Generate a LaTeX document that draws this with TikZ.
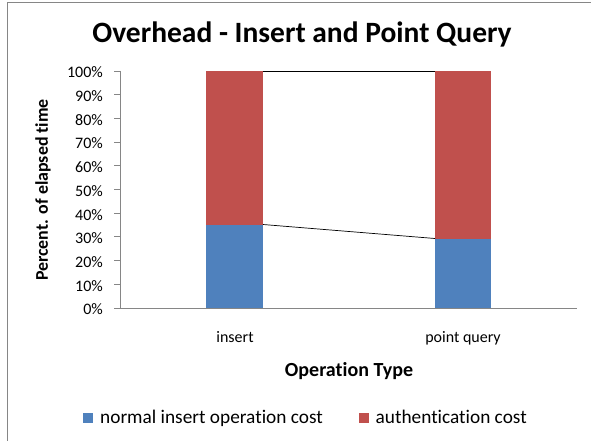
\documentclass[tikz,border=0pt]{standalone}
\usepackage{fontspec}
\setmainfont[Ligatures=CommonOff]{Carlito}
\definecolor{barblue}{HTML}{4F81BD}
\definecolor{barred}{HTML}{C0504D}
\definecolor{axisgray}{HTML}{868686}
\begin{document}
\begin{tikzpicture}[x=1pt,y=-1pt,
  ticklab/.style={anchor=east,font=\fontsize{16}{18}\selectfont,inner sep=0pt},
  catlab/.style={anchor=base,font=\fontsize{16}{18}\selectfont,inner sep=0pt},
  leglab/.style={anchor=base west,inner sep=0pt,font=\fontsize{19.3}{21}\selectfont},
  axisline/.style={draw=axisgray,line width=0.9pt},
  bluebar/.style={fill=barblue,draw=none},
  redbar/.style={fill=barred,draw=none},
  series/.style={draw=black,line width=0.7pt}]
\useasboundingbox (0,0) rectangle (591,441);
\fill[white] (0,0) rectangle (591,441);
% frame
\draw[axisgray,line width=0.8pt] (7,460) -- (7,2) -- (610,2);
% title
\node[anchor=base,inner sep=0pt,font=\bfseries\fontsize{29.5}{32}\selectfont] (title) at (302,43) {Overhead - Insert and Point Query};
% bars
\path[bluebar] (206,308) rectangle (263,224.5);
\path[redbar] (206,224.5) rectangle (263,71);
\path[bluebar] (435,308) rectangle (491,238.5);
\path[redbar] (435,238.5) rectangle (491,71);
\coordinate (i1) at (263,224.5);
\coordinate (q1) at (435,238.5);
\coordinate (i2) at (263,71);
\coordinate (q2) at (435,71);
\draw[series] (i1) -- (q1);
\draw[series] (i2) -- (q2);
% axes
\draw[axisline] (120,71) -- (120,308) -- (577,308);
\foreach \v [count=\k from 0] in {0,10,...,100} {
  \pgfmathsetmacro{\yy}{308-2.37*\v}
  \draw[axisline] (114,\yy) -- (120,\yy);
  \node[ticklab] (t\k) at (103,\yy+1.5) {\v\%};
}
\node[catlab] (cins) at (235,342) {insert};
\node[catlab] (cpq) at (463,342) {point query};
\node[anchor=base,inner sep=0pt,font=\bfseries\fontsize{20}{22}\selectfont] (xlab) at (349,376) {Operation Type};
\node[inner sep=0pt,font=\bfseries\fontsize{17.9}{19}\selectfont,rotate=90] (ylab) at (43,190) {Percent. of elapsed time};
% legend
\path[bluebar] (83,412.5) rectangle (93,422.5);
\node[leglab] (l1) at (100,423) {normal insert operation cost};
\path[redbar] (359,412.5) rectangle (369,422.5);
\node[leglab] (l2) at (375.5,423) {authentication cost};
\end{tikzpicture}
\end{document}
